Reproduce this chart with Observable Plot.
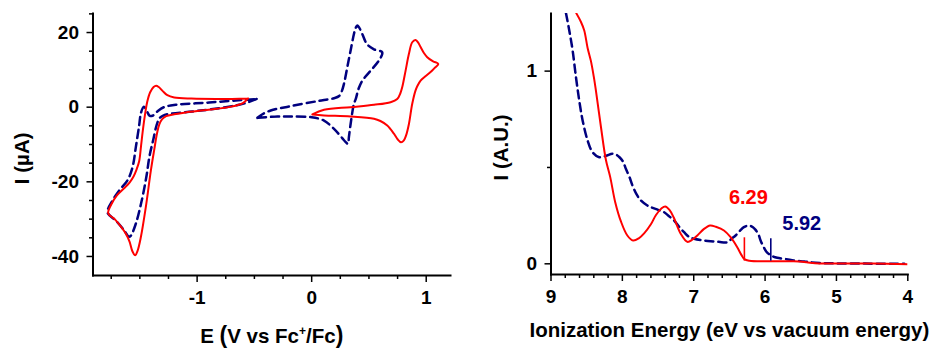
<!DOCTYPE html>
<html><head><meta charset="utf-8">
<script src="https://cdn.jsdelivr.net/npm/d3@7"></script>
<script src="https://cdn.jsdelivr.net/npm/@observablehq/plot@0.6"></script>
<style>
body{margin:0;background:#fff;}
#wrap{display:flex;width:931px;height:348px;overflow:hidden;}
</style></head><body><div id="wrap"></div>
<script>
const RED = "#ff0000", NAVY = "#00007f";
const FONT = "'Liberation Sans', Arial, Helvetica, sans-serif";

// ---------- Cyclic voltammetry (E in V vs Fc+/Fc, I in µA) ----------
const cvRedReduction = [
[-0.555,2.35],[-0.60,1.1],[-0.70,0.15],[-0.90,-0.7],[-1.10,-1.4],[-1.20,-1.9],[-1.27,-2.4],
[-1.305,-3.2],[-1.33,-4.6],[-1.35,-7.0],[-1.375,-11.5],[-1.404,-17.0],[-1.448,-26.8],[-1.491,-34.8],
[-1.52,-38.5],[-1.541,-39.7],[-1.565,-38.6],[-1.59,-36.0],[-1.622,-33.9],[-1.67,-31.8],[-1.72,-30.0],
[-1.776,-28.4],[-1.745,-25.8],[-1.70,-23.6],[-1.64,-21.8],[-1.59,-20.2],[-1.555,-18.6],[-1.53,-16.8],
[-1.506,-14.5],[-1.49,-10.5],[-1.475,-6.5],[-1.455,-2.0],[-1.435,1.5],[-1.41,4.0],[-1.38,5.4],
[-1.358,5.75],[-1.335,5.4],[-1.30,4.3],[-1.26,3.2],[-1.20,2.6],[-1.05,2.3],[-0.80,2.2],[-0.555,2.35]
];
const cvRedOxidation = [
[0.006,-1.96],[0.108,-0.71],[0.34,0.0],[0.544,0.63],[0.689,1.34],[0.747,2.2],[0.775,3.8],[0.791,5.4],
[0.82,9.8],[0.849,14.3],[0.878,17.4],[0.907,18.0],[0.93,17.3],[0.951,16.1],[0.98,14.5],[1.009,13.4],
[1.06,12.3],[1.105,11.6],[1.07,10.4],[1.038,9.4],[0.99,8.2],[0.951,7.1],[0.925,5.8],[0.907,4.5],
[0.878,0.9],[0.849,-4.5],[0.825,-7.5],[0.805,-8.9],[0.78,-9.4],[0.75,-8.6],[0.718,-7.1],[0.66,-4.9],
[0.60,-3.7],[0.544,-3.1],[0.34,-2.5],[0.108,-2.2],[0.006,-1.96]
];
const cvNavyReduction = [
[-0.48,2.2],[-0.576,1.1],[-0.75,0.0],[-1.041,-1.16],[-1.244,-1.8],[-1.30,-2.3],[-1.33,-3.0],[-1.345,-4.0],
[-1.36,-5.5],[-1.385,-9.0],[-1.415,-13.0],[-1.445,-19.0],[-1.49,-25.9],[-1.535,-31.2],[-1.578,-34.4],
[-1.595,-34.7],[-1.637,-33.0],[-1.709,-30.4],[-1.782,-28.2],[-1.738,-25.0],[-1.68,-22.3],[-1.608,-19.6],
[-1.564,-16.1],[-1.535,-10.7],[-1.506,-4.9],[-1.49,-1.5],[-1.465,0.1],[-1.44,-1.0],[-1.415,-2.3],
[-1.39,-2.3],[-1.35,-1.2],[-1.29,0.0],[-1.186,0.63],[-0.895,1.25],[-0.663,1.8],[-0.48,2.2]
];
const cvNavyOxidation = [
[-0.474,-2.86],[-0.43,-1.9],[-0.358,-0.89],[-0.183,0.27],[0.049,1.61],[0.195,2.41],[0.24,3.0],[0.262,4.2],
[0.282,6.25],[0.311,10.7],[0.34,15.2],[0.369,19.6],[0.385,21.3],[0.398,21.9],[0.415,21.3],[0.442,19.6],
[0.485,16.8],[0.544,15.5],[0.616,14.7],[0.587,12.5],[0.515,9.8],[0.442,7.1],[0.41,5.0],[0.385,2.2],
[0.369,0.9],[0.34,-4.5],[0.325,-8.0],[0.317,-9.8],[0.295,-9.3],[0.267,-8.3],[0.195,-5.8],[0.108,-3.6],
[0.0,-2.7],[-0.183,-2.5],[-0.299,-2.5],[-0.474,-2.86]
];
const cvXTicks = [-1, 0, 1];
const cvXMinor = [-1.75,-1.5,-1.25,-0.75,-0.5,-0.25,0.25,0.5,0.75];
const cvYTicks = [-40, -20, 0, 20];
const cvYMinor = [-35,-30,-25,-15,-10,-5,5,10,15,25];
const cvXTitle = "E (V vs Fc+/Fc)";
const cvYTitle = "I (µA)";

// ---------- Photoelectron spectra (eV vs vacuum, A.U.) ----------
const pesRed = [
[8.645,1.30],[8.58,1.255],[8.534,1.211],[8.487,1.12],[8.441,1.053],[8.40,0.97],[8.371,0.90],[8.30,0.71],
[8.231,0.54],[8.17,0.45],[8.10,0.32],[8.02,0.22],[7.93,0.147],[7.85,0.121],[7.77,0.132],[7.695,0.158],
[7.60,0.205],[7.531,0.252],[7.45,0.288],[7.40,0.298],[7.34,0.28],[7.28,0.24],[7.182,0.156],[7.09,0.114],
[7.02,0.125],[6.949,0.147],[6.86,0.18],[6.77,0.199],[6.69,0.192],[6.576,0.173],[6.483,0.138],[6.39,0.086],
[6.33,0.045],[6.29,0.024],[6.22,0.016],[6.0,0.013],[5.8,0.013],[5.6,0.013],[5.42,0.008],[5.3,0.003],
[5.0,0.002],[4.5,0.001],[4.0,-0.002]
];
const pesNavy = [
[8.79,1.30],[8.744,1.211],[8.697,1.107],[8.65,0.968],[8.604,0.847],[8.557,0.744],[8.487,0.640],[8.417,0.579],
[8.324,0.553],[8.231,0.560],[8.14,0.571],[8.09,0.567],[8.04,0.553],[7.99,0.53],[7.951,0.493],[7.90,0.45],
[7.858,0.406],[7.80,0.36],[7.741,0.329],[7.66,0.305],[7.601,0.294],[7.50,0.28],[7.415,0.268],[7.34,0.245],
[7.275,0.225],[7.20,0.19],[7.135,0.164],[7.06,0.138],[6.995,0.130],[6.88,0.122],[6.762,0.117],[6.65,0.114],
[6.529,0.112],[6.47,0.13],[6.413,0.147],[6.35,0.172],[6.297,0.190],[6.227,0.199],[6.17,0.19],[6.133,0.176],
[6.09,0.15],[6.063,0.121],[6.01,0.08],[5.970,0.058],[5.90,0.04],[5.830,0.031],[5.70,0.024],[5.597,0.017],
[5.45,0.012],[5.364,0.008],[5.2,0.004],[5.0,0.002],[4.6,0.001],[4.2,0.0],[4.05,0.0]
];
const onsetE = [6.29, 5.92];
const onsetTop = [0.135, 0.13];
const onsetBase = [0.014, 0.014];
const onsetLabels = ["6.29", "5.92"];
const pesXTicks = [9, 8, 7, 6, 5, 4];
const pesXMinor = [8.8,8.6,8.4,8.2,7.8,7.6,7.4,7.2,6.8,6.6,6.4,6.2,5.8,5.6,5.4,5.2,4.8,4.6,4.4,4.2];
const pesYTicks = [0, 1];
const pesYMinor = [0.5];
const pesXTitle = "Ionization Energy (eV vs vacuum energy)";
const pesYTitle = "I (A.U.)";

const style = {fontFamily: FONT, fontSize: "19px", fontWeight: "bold", background: "white", color: "black", overflow: "visible"};
const X = d => d[0], Y = d => d[1];
const onsets = onsetE.map((e, i) => ({e, top: onsetTop[i], base: onsetBase[i], label: onsetLabels[i]}));
const titleOpts = {fontSize: 20.5, fontWeight: "bold", lineAnchor: "middle", textAnchor: "middle"};

const left = Plot.plot({
  width: 460, height: 348,
  marginLeft: 92.5, marginRight: 10, marginTop: 13, marginBottom: 73,
  style,
  x: {domain: [-1.909, 1.212]},
  y: {domain: [-45.1, 25.1]},
  marks: [
    Plot.line(cvNavyReduction, {x: X, y: Y, stroke: NAVY, strokeWidth: 2.5, strokeDasharray: "8,5", curve: "catmull-rom"}),
    Plot.line(cvNavyOxidation, {x: X, y: Y, stroke: NAVY, strokeWidth: 2.5, strokeDasharray: "8,5", curve: "catmull-rom"}),
    Plot.line(cvRedReduction, {x: X, y: Y, stroke: RED, strokeWidth: 2, curve: "catmull-rom"}),
    Plot.line(cvRedOxidation, {x: X, y: Y, stroke: RED, strokeWidth: 2, curve: "catmull-rom"}),
    Plot.axisX({ticks: cvXMinor, tickSize: 4, tickFormat: () => "", label: null, strokeWidth: 1.5}),
    Plot.axisX({ticks: cvXTicks, tickSize: 7, tickPadding: 8, tickFormat: d => String(d), label: null, strokeWidth: 1.5}),
    Plot.axisY({ticks: cvYMinor, tickSize: 3.5, tickFormat: () => "", label: null, strokeWidth: 1.5}),
    Plot.axisY({ticks: cvYTicks, tickSize: 6, tickPadding: 8, tickFormat: d => String(d), label: null, strokeWidth: 1.5}),
    Plot.frame({anchor: "left", strokeWidth: 2}),
    Plot.frame({anchor: "bottom", strokeWidth: 2}),
    Plot.text([cvXTitle], {text: d => d, frameAnchor: "bottom", dy: 60.5, ...titleOpts}),
    Plot.text([cvYTitle], {text: d => d, frameAnchor: "left", y: -13.7, dx: -71, rotate: -90, ...titleOpts})
  ]
});

const right = Plot.plot({
  width: 471, height: 348,
  marginLeft: 90.5, marginRight: 23.7, marginTop: 13, marginBottom: 74,
  style,
  x: {domain: [9, 4]},
  y: {domain: [-0.0555, 1.299]},
  marks: [
    Plot.line(pesNavy, {x: X, y: Y, stroke: NAVY, strokeWidth: 2.5, strokeDasharray: "8,5", curve: "catmull-rom", clip: true}),
    Plot.line(pesRed, {x: X, y: Y, stroke: RED, strokeWidth: 2, curve: "catmull-rom", clip: true}),
    Plot.ruleX(onsets, {x: "e", y1: "base", y2: "top", stroke: (d, i) => i === 0 ? RED : NAVY, strokeWidth: 1.6}),
    Plot.text(onsets.slice(0, 1), {x: "e", y: "top", text: "label", dx: 4, dy: -40, fill: RED, fontSize: 20, fontWeight: "bold"}),
    Plot.text(onsets.slice(1, 2), {x: "e", y: "top", text: "label", dx: 31, dy: -15, fill: NAVY, fontSize: 20, fontWeight: "bold"}),
    Plot.axisX({ticks: pesXMinor, tickSize: 4, tickFormat: () => "", label: null, strokeWidth: 1.5}),
    Plot.axisX({ticks: pesXTicks, tickSize: 7, tickPadding: 8, tickFormat: d => String(d), label: null, strokeWidth: 1.5}),
    Plot.axisY({ticks: pesYMinor, tickSize: 3.5, tickFormat: () => "", label: null, strokeWidth: 1.5}),
    Plot.axisY({ticks: pesYTicks, tickSize: 6, tickPadding: 8, tickFormat: d => String(d), label: null, strokeWidth: 1.5}),
    Plot.frame({anchor: "left", strokeWidth: 2}),
    Plot.frame({anchor: "bottom", strokeWidth: 2}),
    Plot.text([pesXTitle], {text: d => d, frameAnchor: "bottom", dy: 56, ...titleOpts}),
    Plot.text([pesYTitle], {text: d => d, frameAnchor: "left", y: 0.604, dx: -50, rotate: -90, ...titleOpts})
  ]
});

const wrap = document.getElementById("wrap");
wrap.appendChild(left);
wrap.appendChild(right);

// superscript + and enlarged parentheses in the CV x-axis title
d3.select(left).selectAll("text").filter(function () { return this.textContent === cvXTitle; }).each(function () {
  const t = d3.select(this);
  t.text(null);
  t.append("tspan").text("E ");
  t.append("tspan").attr("font-size", 23).text("(");
  t.append("tspan").text("V vs Fc");
  t.append("tspan").attr("font-size", 12).attr("dy", -8).text("+");
  t.append("tspan").attr("dy", 8).text("/Fc");
  t.append("tspan").attr("font-size", 23).text(")");
});
</script>
</body></html>
